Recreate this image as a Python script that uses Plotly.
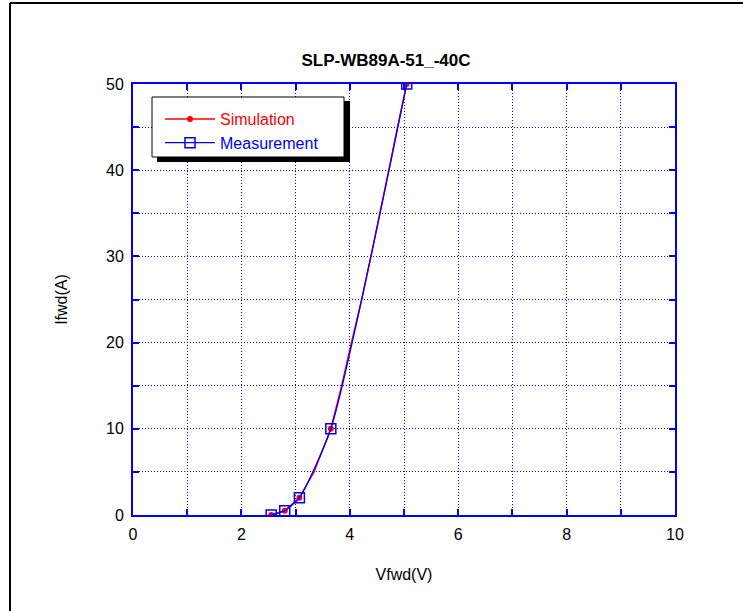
import plotly.graph_objects as go

# Data
sim_v = [2.55, 2.80, 3.07, 3.34, 3.65, 3.85, 4.03, 4.22, 4.39, 4.56, 4.72, 4.88, 5.05]
sim_i = [0, 0.5, 2, 5, 10, 15, 20, 25, 30, 35, 40, 45, 50]
sim_marker_idx = [0, 1, 2, 4, 12]

meas_v = [2.55, 2.80, 3.07, 3.65, 5.05]
meas_i = [0, 0.5, 2, 10, 50]

title_text = "SLP-WB89A-51_-40C"
x_title = "Vfwd(V)"
y_title = "Ifwd(A)"

BLUE = "#0000ff"
RED = "#ff0000"
FONT = "Liberation Sans, Arial, sans-serif"

sim_marker_colors = [RED if i in sim_marker_idx else "rgba(0,0,0,0)"
                     for i in range(len(sim_v))]

fig = go.Figure()
fig.add_trace(go.Scatter(
    x=sim_v, y=sim_i, mode="lines+markers",
    name='<span style="color:#ff0000">Simulation</span>',
    line=dict(color=RED, width=1.5),
    marker=dict(symbol="circle", size=6, color=sim_marker_colors),
))
fig.add_trace(go.Scatter(
    x=meas_v, y=meas_i, mode="lines+markers",
    name='<span style="color:#0000ff">Measurement</span>',
    line=dict(color=BLUE, width=1.3, shape="spline", smoothing=0.6),
    marker=dict(symbol="square-open", size=10, color=BLUE,
                line=dict(color=BLUE, width=1.5)),
))

# page geometry (body margin removed): plot area x 133..675, y 84..515
W, H = 743, 611
L, R, T, B = 133, 68, 84, 96
pw, ph = W - L - R, H - T - B

def px(x):
    return (x - L) / pw

def py(y):
    return (H - B - y) / ph

shapes = [
    # outer frame
    dict(type="line", xref="paper", yref="paper", x0=px(10), x1=px(10),
         y0=py(640), y1=py(3), line=dict(color="black", width=2)),
    dict(type="line", xref="paper", yref="paper", x0=px(10), x1=px(760),
         y0=py(3), y1=py(3), line=dict(color="black", width=2)),
    # legend shadow
    dict(type="rect", xref="paper", yref="paper", x0=px(157), x1=px(350),
         y0=py(162), y1=py(101), fillcolor="black", line=dict(width=0),
         layer="above"),
    # legend box
    dict(type="rect", xref="paper", yref="paper", x0=px(152), x1=px(344),
         y0=py(157), y1=py(97), fillcolor="white",
         line=dict(color="black", width=1), layer="above"),
]

axis_common = dict(
    showline=True, linecolor=BLUE, linewidth=2, mirror="ticks",
    ticks="inside", tickcolor=BLUE, ticklen=6, tickwidth=1.5,
    showgrid=True, gridcolor=BLUE, griddash="1px,2px", gridwidth=1,
    zeroline=False, ticklabelstandoff=4,
    tickfont=dict(family=FONT, size=16, color="black"),
)

fig.update_layout(
    width=W, height=H,
    margin=dict(l=L, r=R, t=T, b=B),
    paper_bgcolor="white", plot_bgcolor="white",
    title=dict(text="<b>" + title_text + "</b>", x=386 / W, xanchor="center",
               y=1 - 60 / H, yanchor="middle",
               font=dict(family=FONT, size=17, color="black")),
    xaxis=dict(range=[0, 10], dtick=2, tick0=0,
               minor=dict(dtick=1, showgrid=True, gridcolor=BLUE, griddash="1px,2px",
                          ticks="inside", ticklen=6, tickcolor=BLUE),
               title=dict(text=x_title, font=dict(family=FONT, size=16, color="black"),
                          standoff=27),
               **axis_common),
    yaxis=dict(range=[0, 50], dtick=10, tick0=0,
               minor=dict(dtick=5, showgrid=True, gridcolor=BLUE, griddash="1px,2px",
                          ticks="inside", ticklen=6, tickcolor=BLUE),
               title=dict(text=y_title, font=dict(family=FONT, size=16, color="black"),
                          standoff=34),
               **axis_common),
    showlegend=True,
    legend=dict(x=px(160), y=py(102), xanchor="left", yanchor="top",
                bgcolor="rgba(0,0,0,0)", borderwidth=0,
                font=dict(family=FONT, size=16), itemwidth=50,
                tracegroupgap=0),
    shapes=shapes,
)

fig.write_html("out.html", config={"displayModeBar": False},
               post_script="document.body.style.margin='0';")
